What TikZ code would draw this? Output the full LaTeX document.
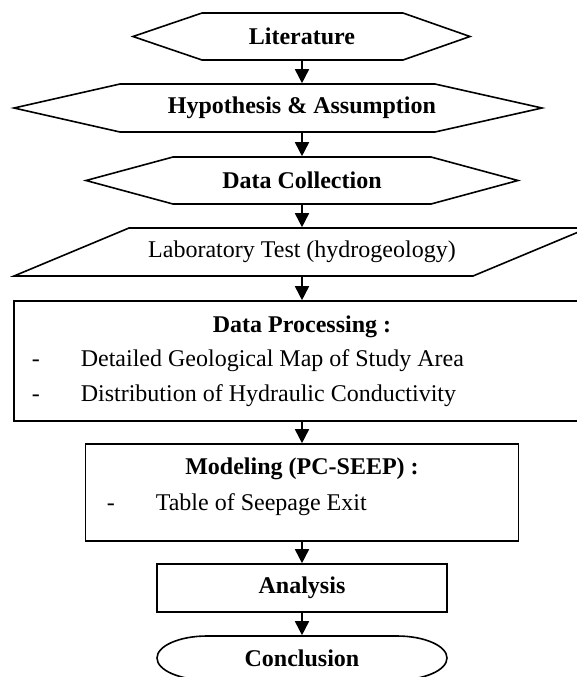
\documentclass[tikz,border=0pt]{standalone}
\usepackage{fontspec}
\setmainfont{Liberation Serif}
\usetikzlibrary{arrows.meta}
\begin{document}
\begin{tikzpicture}[x=0.5pt,y=-0.5pt,line width=0.8pt,
  outline/.style={draw=black,line join=miter},
  hub/.style={inner sep=0pt,minimum width=2pt,font=\fontsize{12}{14}\selectfont},
  framebox/.style={draw=black,inner sep=0pt,font=\fontsize{12}{14}\selectfont},
  txt/.style={inner sep=0pt,font=\fontsize{12}{14}\selectfont},
  item/.style={txt,anchor=base west},
  flow/.style={-{Triangle[width=7pt,length=7pt]}},
]
\useasboundingbox (0,0) rectangle (577,677);
\clip (0,0) rectangle (577,677);

% hexagons, parallelogram and terminal outlines
\draw[outline] (133,36.5) -- (202,13) -- (403,13) -- (470,36.5) -- (403,60) -- (202,60) -- cycle;
\draw[outline] (14,108) -- (120,84) -- (435,84) -- (542,108) -- (435,132) -- (120,132) -- cycle;
\draw[outline] (86,180.5) -- (173,157) -- (431,157) -- (518,180.5) -- (431,204) -- (173,204) -- cycle;
\draw[outline] (14,276) -- (129,228) -- (588,228) -- (473,276) -- cycle;
\draw[outline] (207,636) -- (397,636)
  .. controls (424.6,636) and (447,645.85) .. (447,658)
  .. controls (447,670.15) and (424.6,680) .. (397,680)
  -- (207,680)
  .. controls (179.4,680) and (157,670.15) .. (157,658)
  .. controls (157,645.85) and (179.4,636) .. (207,636) -- cycle;

% step nodes
\node[hub,minimum height=23.5pt] (lit) at (302,36.5) {\bfseries Literature};
\node[hub,minimum height=24pt] (hyp) at (302,108) {\bfseries Hypothesis \& Assumption};
\node[hub,minimum height=23.5pt] (dc) at (302,180.5) {\bfseries Data Collection};
\node[hub,minimum height=24pt] (lab) at (302,252) {Laboratory Test (hydrogeology)};
\node[framebox,minimum width=288pt,minimum height=60pt] (dp) at (302,361) {};
\node[framebox,minimum width=216.5pt,minimum height=48.5pt] (mod) at (302,492.5) {};
\node[framebox,minimum width=145pt,minimum height=24pt] (ana) at (302,588) {\bfseries Analysis};
\node[hub,minimum height=22pt] (conc) at (302,658) {\bfseries Conclusion};

% box contents
\node[txt] (dpt) at (302,327) {\bfseries Data Processing :};
\node[item] (dpd1) at (31,366) {-};
\node[item] (dpl1) at (80,366) {Detailed Geological Map of Study Area};
\node[item] (dpd2) at (31,401.5) {-};
\node[item] (dpl2) at (80,401.5) {Distribution of Hydraulic Conductivity};
\node[txt] (modt) at (302,469) {\bfseries Modeling (PC-SEEP) :};
\node[item] (modd) at (106,510.5) {-};
\node[item] (modl) at (155,510.5) {Table of Seepage Exit};

% connectors
\draw[flow] (lit) -- (hyp);
\draw[flow] (hyp) -- (dc);
\draw[flow] (dc) -- (lab);
\draw[flow] (lab) -- (dp);
\draw[flow] (dp) -- (mod);
\draw[flow] (mod) -- (ana);
\draw[flow] (ana) -- (conc);
\end{tikzpicture}
\end{document}
